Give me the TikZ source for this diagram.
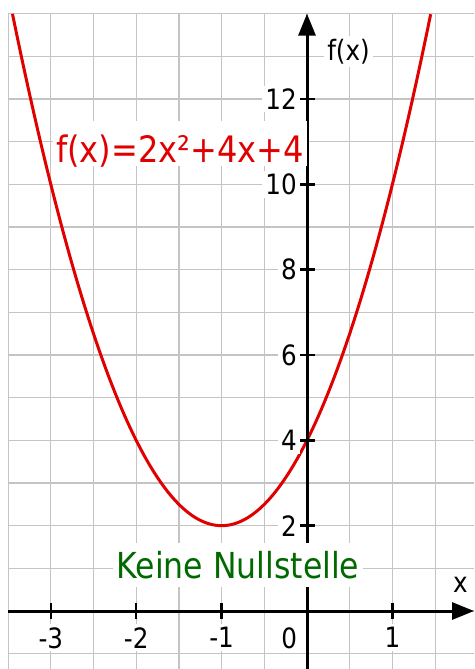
\documentclass[tikz,border=0pt]{standalone}
\usepackage{fontspec}
\newfontfamily\plotfont[FakeStretch=0.88]{DejaVu Sans}
\usetikzlibrary{arrows.meta}
\definecolor{GridGray}{HTML}{C4C4C4}
\definecolor{CurveRed}{HTML}{E00000}
\definecolor{NoteGreen}{HTML}{006A00}

\begin{document}
\begin{tikzpicture}[
  x=85.4pt, y=42.67pt,
  gridline/.style={GridGray, line width=1.2pt},
  axisline/.style={line width=3pt, -{Triangle[length=22pt, width=17pt]}},
  tickmark/.style={line width=2.5pt},
  ticklbl/.style={fill=white, inner sep=3pt, font=\plotfont\fontsize{28}{30}\selectfont},
  graphline/.style={CurveRed, line width=3pt}
]
\useasboundingbox (-3.595,-1.359) rectangle (1.956,14.32);

% ── GRID ──────────────────────────────────────────────────────────────────────
\draw[gridline] (-3.501,-1.359) grid[xstep=0.5, ystep=1] (1.956,14.001);

% ── GRAPH ─────────────────────────────────────────────────────────────────────
\draw[graphline] plot[domain=-3.449:1.449, samples=120, smooth] (\x,{2*\x*\x+4*\x+4});

% ── AXES ──────────────────────────────────────────────────────────────────────
\coordinate (xstart) at (-3.5,0);
\coordinate (xend)   at (1.956,0);
\coordinate (ystart) at (0,-1.359);
\coordinate (yend)   at (0,14);
\draw[axisline] (xstart) -- (xend);
\draw[axisline] (ystart) -- (yend);

\foreach \u/\n in {-3/a, -2/b, -1/c, 1/d} {
  \draw[tickmark] (\u,-0.19) -- (\u,0.19);
  \node[ticklbl, anchor=north] (xtick\n) at (\u,-0.305) {\u};
}
\node[ticklbl, anchor=north east] (xtick0) at (-0.08,-0.305) {0};

\foreach \v in {2,4,...,12} {
  \draw[tickmark] (-0.088,\v) -- (0.088,\v);
  \node[ticklbl, anchor=east] (ytick\v) at (-0.082,\v) {\v};
}

\node[ticklbl, anchor=base west] (ylabel) at (0.2,12.91) {f(x)};
\node[ticklbl, anchor=base] (xlabel) at (1.797,0.445) {x};

% ── LABELS ────────────────────────────────────────────────────────────────────
\node[fill=white, inner xsep=3pt, inner ysep=0pt, text height=42pt, text depth=3pt,
      anchor=base east, text=CurveRed, font=\plotfont\fontsize{36.4}{40}\selectfont]
  (funclbl) at (0.0,10.51) {f(x)=2x²+4x+4};

\node[fill=white, inner xsep=4pt, inner ysep=0pt, text height=35pt, text depth=9pt,
      anchor=base, text=NoteGreen, font=\plotfont\fontsize{35.8}{38}\selectfont]
  (notelbl) at (-0.808,0.773) {Keine Nullstelle};

\end{tikzpicture}
\end{document}
